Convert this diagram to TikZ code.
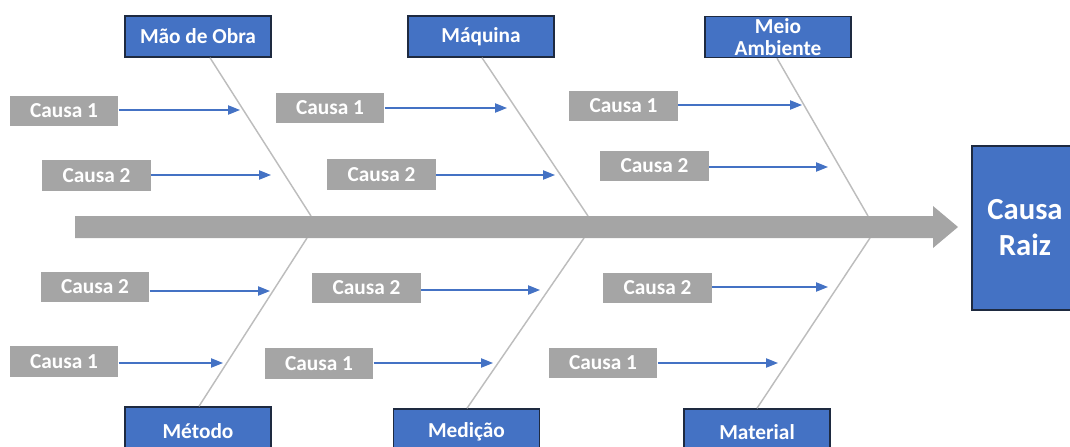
\documentclass[tikz,border=0pt]{standalone}
\usepackage{fontspec}
\setmainfont{Carlito}
\usetikzlibrary{arrows.meta}
\definecolor{catblue}{HTML}{4472C4}
\definecolor{catedge}{HTML}{1E2A40}
\definecolor{causegray}{HTML}{A5A5A5}
\definecolor{bonegray}{HTML}{BDBDBD}
\begin{document}
\begin{tikzpicture}[x=0.75pt,y=-0.75pt,
  catbox/.style={draw=catedge,line width=1.1pt,fill=catblue,text=white,
    font=\fontsize{16}{16}\selectfont\bfseries,minimum width=109.5pt,
    align=center,inner sep=0pt},
  causebox/.style={fill=causegray,text=white,font=\fontsize{16}{16}\selectfont\bfseries,
    minimum width=81.5pt,minimum height=23pt,inner sep=0pt},
  bone/.style={draw=bonegray,line width=1.1pt},
  causearrow/.style={draw=catblue,line width=0.9pt,-{Triangle[length=9pt,width=7pt]}}]
\useasboundingbox (0,0) rectangle (1070,446);
\clip (0,0) rectangle (1070,446);

% category boxes, top row
\node[catbox,minimum height=30.75pt] (mao)  at (198,36.5) {Mão de Obra};
\node[catbox,minimum height=30.75pt] (maq)  at (481,36.5) {Máquina};
\node[catbox,minimum height=30.75pt,font=\fontsize{16}{16.5}\selectfont\bfseries]
      (meio) at (778,37) {Meio\\Ambiente};
% category boxes, bottom row
\node[catbox,minimum height=36pt] (met) at (198,431)   {Método};
\node[catbox,minimum height=34.5pt] (med) at (466.5,432) {Medição};
\node[catbox,minimum height=34.5pt] (mat) at (757,432)   {Material};

% root cause
\node[draw=catedge,line width=1.1pt,fill=catblue,text=white,
      font=\fontsize{23}{27}\selectfont\bfseries,align=center,
      minimum width=79.5pt,minimum height=123pt,inner sep=0pt]
      (raiz) at (1025,228) {Causa\\Raiz};

% bone end points on the spine
\coordinate (s1t) at (311,216); \coordinate (s1b) at (307,238);
\coordinate (s2t) at (588,216); \coordinate (s2b) at (584,238);
\coordinate (s3t) at (868,216); \coordinate (s3b) at (870,238);

% bones
\draw[bone] (mao.south -| 210,0)  -- (s1t);
\draw[bone] (met.north -| 199,0)  -- (s1b);
\draw[bone] (maq.south -| 482,0)  -- (s2t);
\draw[bone] (med.north -| 467,0)  -- (s2b);
\draw[bone] (meio.south -| 777,0) -- (s3t);
\draw[bone] (mat.north -| 757,0)  -- (s3b);

% spine
\coordinate (head) at (958,227);
\fill[causegray] (75,216) -- (933,216) -- (933,206) -- (head)
  -- (933,248) -- (933,238) -- (75,238) -- cycle;

% causes
\node[causebox] (c1a) at (64,111)    {Causa 1};
\node[causebox] (c2a) at (96.5,175.5) {Causa 2};
\node[causebox] (c1b) at (330,108)   {Causa 1};
\node[causebox] (c2b) at (381.5,174.5) {Causa 2};
\node[causebox] (c1c) at (623.5,106) {Causa 1};
\node[causebox] (c2c) at (654.5,166) {Causa 2};
\node[causebox] (c3a) at (95,287)    {Causa 2};
\node[causebox] (c4a) at (64,361.5)  {Causa 1};
\node[causebox] (c3b) at (366.5,288) {Causa 2};
\node[causebox] (c4b) at (319,363.5) {Causa 1};
\node[causebox] (c3c) at (657.5,288) {Causa 2};
\node[causebox] (c4c) at (603,363)   {Causa 1};

% arrow tips next to the bones
\coordinate (t1a) at (240,110); \coordinate (t2a) at (271,175);
\coordinate (t1b) at (507,108); \coordinate (t2b) at (555,175);
\coordinate (t1c) at (802,105); \coordinate (t2c) at (828,167);
\coordinate (t3a) at (270,291); \coordinate (t4a) at (223,363);
\coordinate (t3b) at (540,290); \coordinate (t4b) at (493,363);
\coordinate (t3c) at (828,287); \coordinate (t4c) at (778,363);

\foreach \c in {1a,2a,1b,2b,1c,2c,3a,4a,3b,4b,3c,4c}
  \draw[causearrow] (c\c.east |- t\c) -- (t\c);
\end{tikzpicture}
\end{document}
